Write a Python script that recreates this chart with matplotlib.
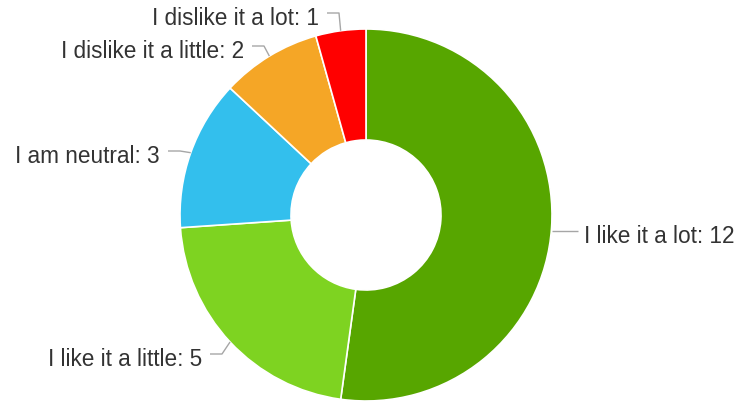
import numpy as np
import matplotlib
matplotlib.use('Agg')
import matplotlib.pyplot as plt

plt.rcParams['font.family'] = ['Liberation Sans', 'DejaVu Sans']

# Survey answers, drawn clockwise from 12 o'clock
answers = ['I like it a lot', 'I like it a little', 'I am neutral',
           'I dislike it a little', 'I dislike it a lot']
counts = [12, 5, 3, 2, 1]
colors = ['#57a600', '#7ed321', '#33bfed', '#f5a626', '#ff0000']

W, H = 739, 402
cx, cy, R = 366, 216, 186      # pixel coords, y measured from the top
hole = 75

# label layout: (line height in px from top, text side, text edge x)
label_pos = [(232, 'right', 584), (355, 'left', 202), (152, 'left', 160),
             (47, 'left', 244), (14, 'left', 319)]

fig = plt.figure(figsize=(W / 100, H / 100), dpi=100)
ax = fig.add_axes([0, 0, 1, 1])

ax.pie(counts, colors=colors, startangle=90, counterclock=False,
       center=(cx, H - cy), radius=R,
       wedgeprops=dict(width=R - hole, edgecolor='white', linewidth=1.2))

ax.set_xlim(0, W)
ax.set_ylim(0, H)
ax.set_aspect('equal')
ax.axis('off')

total = sum(counts)
cum = np.cumsum([0] + counts)
for i, (name, n) in enumerate(zip(answers, counts)):
    frac = (cum[i] + n / 2) / total
    ang = 2 * np.pi * frac          # clockwise from top
    ax_x = cx + R * np.sin(ang)
    ax_y = cy - R * np.cos(ang)
    ly, side, tx = label_pos[i]
    if side == 'right':
        xs = [ax_x, tx - 6]
        ys = [ly, ly]
        ha = 'left'
    else:
        start = tx + 8
        xs = [start, start + 12, ax_x]
        ys = [ly, ly, ax_y]
        ha = 'right'
    ax.plot(xs, [H - y for y in ys], color='#a6a6a6', lw=1, solid_capstyle='butt')
    ax.text(tx, H - ly - 11, f'{name}: {n}', ha=ha, va='baseline',
            fontsize=16.3, color='#333333')

fig.savefig('out.png', dpi=100)
